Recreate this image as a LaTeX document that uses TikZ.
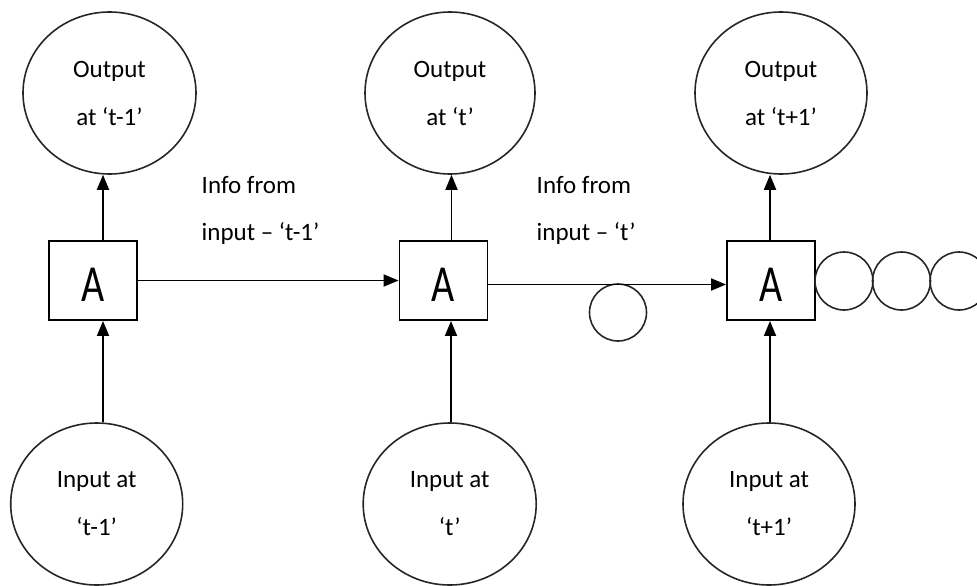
\documentclass[tikz,border=0pt]{standalone}
\usepackage{fontspec}
\setmainfont{Carlito}
\usetikzlibrary{shapes.geometric,arrows.meta}
\begin{document}
\begin{tikzpicture}[x=1pt,y=-1pt,
  bubble/.style={ellipse,draw=black!85,line width=1.6pt,inner sep=0pt,
    minimum width=172pt,minimum height=162pt,align=center,
    font=\fontsize{25}{48}\selectfont},
  cell/.style={rectangle,draw,line width=1.9pt,inner sep=0pt,
    minimum width=88pt,minimum height=79pt,
    font=\fontsize{40}{40}\selectfont},
  dot/.style={circle,draw=black!85,line width=1.6pt,inner sep=0pt,minimum size=#1},
  dot/.default=58pt,
  note/.style={anchor=north west,align=left,inner sep=0pt,
    font=\fontsize{25}{47}\selectfont},
  arr/.style={-{Triangle[length=15pt,width=12pt]},line width=1.8pt}]

\useasboundingbox (0,0) rectangle (977,586);
\clip (0,0) rectangle (977,586);

% outputs
\node[bubble,minimum width=173pt] (O1) at (109.5,93) {Output\\at ‘t-1’};
\node[bubble,minimum width=170pt] (O2) at (450,93) {Output\\at ‘t’};
\node[bubble] (O3) at (781,93) {Output\\at ‘t+1’};

% recurrent cells
\node[cell] (B1) at (93,280.5) {\rule{0pt}{41pt}\scalebox{1}[1.3]{A}};
\node[cell] (B2) at (443.5,280.5) {\rule{0pt}{41pt}\scalebox{1}[1.3]{A}};
\node[cell] (B3) at (771,280.5) {\rule{0pt}{41pt}\scalebox{1}[1.3]{A}};

% inputs
\node[bubble] (I1) at (96.7,504) {Input at\\‘t-1’};
\node[bubble,minimum width=173pt] (I2) at (449.7,504) {Input at\\‘t’};
\node[bubble] (I3) at (769,504) {Input at\\‘t+1’};

% hidden-state notes
\node[note] (N1) at (201.5,176) {Info from\\input – ‘t-1’};
\node[note] (N2) at (536.5,176) {Info from\\input – ‘t’};

% small state circles
\node[dot=57pt] (S) at (618,312.5) {};
\node[dot] (C1) at (844,281) {};
\node[dot] (C2) at (901.5,281) {};
\node[dot] (C3) at (959,281) {};

% cell to output
\draw[arr] ([xshift=10pt]B1.north) -- ([xshift=10pt]B1.north |- O1.south);
\draw[arr] ([xshift=8pt]B2.north) -- ([xshift=8pt]B2.north |- O2.south);
\draw[arr] ([xshift=-1pt]B3.north) -- ([xshift=-1pt]B3.north |- O3.south);

% input to cell
\draw[arr] ([xshift=10pt]B1.south |- I1.north) -- ([xshift=10pt]B1.south);
\draw[arr] ([xshift=7.5pt]B2.south |- I2.north) -- ([xshift=7.5pt]B2.south);
\draw[arr] ([xshift=-1pt]B3.south |- I3.north) -- ([xshift=-1pt]B3.south);

% cell to cell
\draw[arr] (B1.east) -- (B2.west);
\draw[arr] ([yshift=-4pt]B2.east) -- ([yshift=-4pt]B2.east -| B3.west);
\end{tikzpicture}
\end{document}
